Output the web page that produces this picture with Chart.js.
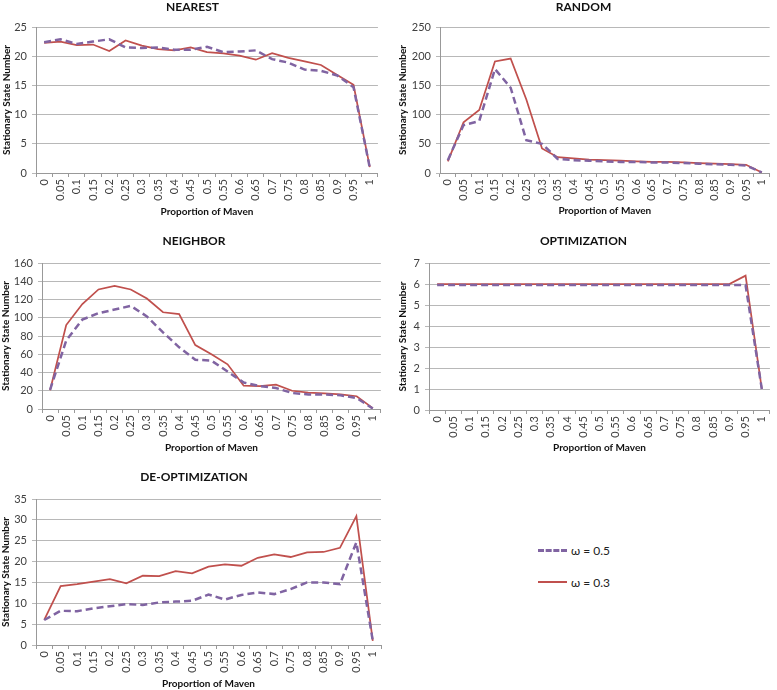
<!DOCTYPE html>
<html>
<head>
<meta charset="utf-8">
<script src="https://cdn.jsdelivr.net/npm/chart.js@4.4.0/dist/chart.umd.min.js"></script>
<style>
  body { margin: 0; background: #fff; width: 777px; height: 690px; position: relative; overflow: hidden; font-family: Lato, sans-serif; }
  canvas { position: absolute; }
  #legend { position: absolute; left: 538px; top: 540px; }
  .item { display: flex; align-items: center; height: 20px; margin-bottom: 12px; font-size: 12px; color: #222; }
  .swatch { width: 29px; height: 0; margin-right: 4px; }
</style>
</head>
<body>
<canvas id="c1" width="385" height="230"></canvas>
<canvas id="c2" width="387" height="230"></canvas>
<canvas id="c3" width="388" height="230"></canvas>
<canvas id="c4" width="387" height="230"></canvas>
<canvas id="c5" width="388" height="230"></canvas>
<div id="legend"></div>
<script>
// x categories
const proportions = ['0', '0.05', '0.1', '0.15', '0.2', '0.25', '0.3', '0.35', '0.4', '0.45', '0.5',
                     '0.55', '0.6', '0.65', '0.7', '0.75', '0.8', '0.85', '0.9', '0.95', '1'];
const seriesNames = ['ω = 0.5', 'ω = 0.3'];
const seriesColors = ['#8064A2', '#C0504D'];

// values (omega 0.5 dashed, omega 0.3 solid)
const nearest05 = [22.4, 22.9, 22.1, 22.5, 22.9, 21.5, 21.4, 21.5, 21.1, 21.1, 21.6, 20.7, 20.8, 21.0, 19.5, 18.9, 17.7, 17.5, 16.7, 14.7, 0.9];
const nearest03 = [22.3, 22.5, 21.9, 22.0, 20.9, 22.7, 21.8, 21.2, 21.0, 21.5, 20.7, 20.5, 20.1, 19.4, 20.5, 19.7, 19.1, 18.5, 16.8, 15.1, 1.0];

const random05 = [22, 82, 89, 178, 146, 56, 50, 24, 22, 21, 20, 19, 19, 18, 18, 17, 16, 15, 14, 13, 1];
const random03 = [20, 87, 108, 191, 196, 126, 42, 27, 25, 23, 22, 21, 20, 19, 19, 18, 17, 16, 15, 14, 1];

const neighbor05 = [21, 75, 98, 105, 109, 113, 101.5, 84, 67.6, 54, 53, 41, 29, 25, 23, 17.5, 16, 16, 15, 12, 0.5];
const neighbor03 = [20.5, 92, 115, 131, 135, 131, 121, 106, 104, 70, 60, 49, 25.5, 25, 26.7, 20, 18, 17, 16, 14, 1];

const optim05 = [5.95, 5.95, 5.95, 5.95, 5.95, 5.95, 5.95, 5.95, 5.95, 5.95, 5.95, 5.95, 5.95, 5.95, 5.95, 5.95, 5.95, 5.95, 5.95, 5.95, 1];
const optim03 = [6, 6, 6, 6, 6, 6, 6, 6, 6, 6, 6, 6, 6, 6, 6, 6, 6, 6, 6, 6.4, 1];

const deoptim05 = [6, 8.2, 8.1, 8.8, 9.3, 9.8, 9.6, 10.2, 10.4, 10.6, 12.1, 10.9, 12.0, 12.6, 12.2, 13.4, 15.0, 15.0, 14.6, 24.6, 1];
const deoptim03 = [6, 14.1, 14.6, 15.2, 15.8, 14.8, 16.6, 16.5, 17.7, 17.2, 18.8, 19.3, 19.0, 20.9, 21.7, 21.1, 22.2, 22.3, 23.3, 30.9, 1];

const yMaxes = [25, 250, 160, 7, 35];
const ySteps = [5, 50, 20, 1, 5];

const panels = [
  { id: 'c1', title: 'NEAREST', s05: nearest05, s03: nearest03, left: 0, top: 0, axisW: 36, areaTop: 27, areaBottom: 173, titleTop: 0, xTitlePad: 12, yTitlePad: 1 },
  { id: 'c2', title: 'RANDOM', s05: random05, s03: random03, left: 390, top: 0, axisW: 50, areaTop: 27, areaBottom: 173, titleTop: 0, xTitlePad: 13, yTitlePad: 7 },
  { id: 'c3', title: 'NEIGHBOR', s05: neighbor05, s03: neighbor03, left: 0, top: 230, axisW: 42, areaTop: 33, areaBottom: 179, titleTop: 4, xTitlePad: 6.5, yTitlePad: 0 },
  { id: 'c4', title: 'OPTIMIZATION', s05: optim05, s03: optim03, left: 390, top: 230, axisW: 39, areaTop: 33, areaBottom: 180, titleTop: 4, xTitlePad: 6.5, yTitlePad: 7 },
  { id: 'c5', title: 'DE-OPTIMIZATION', s05: deoptim05, s03: deoptim03, left: 0, top: 460, axisW: 36, areaTop: 39, areaBottom: 185, titleTop: 10, xTitlePad: 0, yTitlePad: 0 }
];

const FONT = 'Lato, "Open Sans", sans-serif';

panels.forEach((p, i) => {
  const canvas = document.getElementById(p.id);
  canvas.style.left = p.left + 'px';
  canvas.style.top = p.top + 'px';
  const h = canvas.height;

  new Chart(canvas, {
    type: 'line',
    data: {
      labels: proportions,
      datasets: [
        { label: seriesNames[0], data: p.s05, borderColor: seriesColors[0], borderWidth: 2.5, borderDash: [7, 4], pointRadius: 0, tension: 0 },
        { label: seriesNames[1], data: p.s03, borderColor: seriesColors[1], borderWidth: 1.75, pointRadius: 0, tension: 0 }
      ]
    },
    options: {
      responsive: false,
      animation: false,
      devicePixelRatio: 1,
      layout: { padding: 0 },
      plugins: {
        legend: { display: false },
        tooltip: { enabled: false },
        title: {
          display: true,
          text: p.title,
          color: '#111',
          font: { family: FONT, size: 12, weight: 'bold', lineHeight: 1.2 },
          padding: { top: p.titleTop, bottom: p.areaTop - p.titleTop - 14.4 }
        }
      },
      scales: {
        x: {
          offset: true,
          grid: { display: true, drawOnChartArea: false, drawTicks: true, tickLength: 4, offset: true, color: '#999' },
          border: { color: '#999' },
          ticks: { minRotation: 90, maxRotation: 90, autoSkip: false, padding: 2, color: '#404040', font: { family: FONT, size: 11 } },
          title: { display: true, text: 'Proportion of Maven', color: '#111', font: { family: FONT, size: 10, weight: 'bold', lineHeight: 1.2 }, padding: { top: 0, bottom: p.xTitlePad } },
          afterFit: s => { s.height = h - p.areaBottom; }
        },
        y: {
          min: 0,
          max: yMaxes[i],
          ticks: { stepSize: ySteps[i], padding: 5, color: '#404040', font: { family: FONT, size: 11 } },
          grid: { color: '#b8b8b8', tickLength: 4 },
          border: { color: '#999' },
          title: { display: true, text: 'Stationary State Number', color: '#111', font: { family: FONT, size: 10, weight: 'bold', lineHeight: 1.2 }, padding: { top: p.yTitlePad, bottom: 0 } },
          afterFit: s => { s.width = p.axisW; }
        }
      }
    }
  });
});

// legend, built from the series names and colours
const legend = document.getElementById('legend');
seriesNames.forEach((name, k) => {
  const item = document.createElement('div');
  item.className = 'item';
  const sw = document.createElement('div');
  sw.className = 'swatch';
  sw.style.borderTop = k === 0 ? '3px dashed ' + seriesColors[k] : '2px solid ' + seriesColors[k];
  const txt = document.createElement('span');
  txt.textContent = name;
  item.appendChild(sw);
  item.appendChild(txt);
  legend.appendChild(item);
});
</script>
</body>
</html>
